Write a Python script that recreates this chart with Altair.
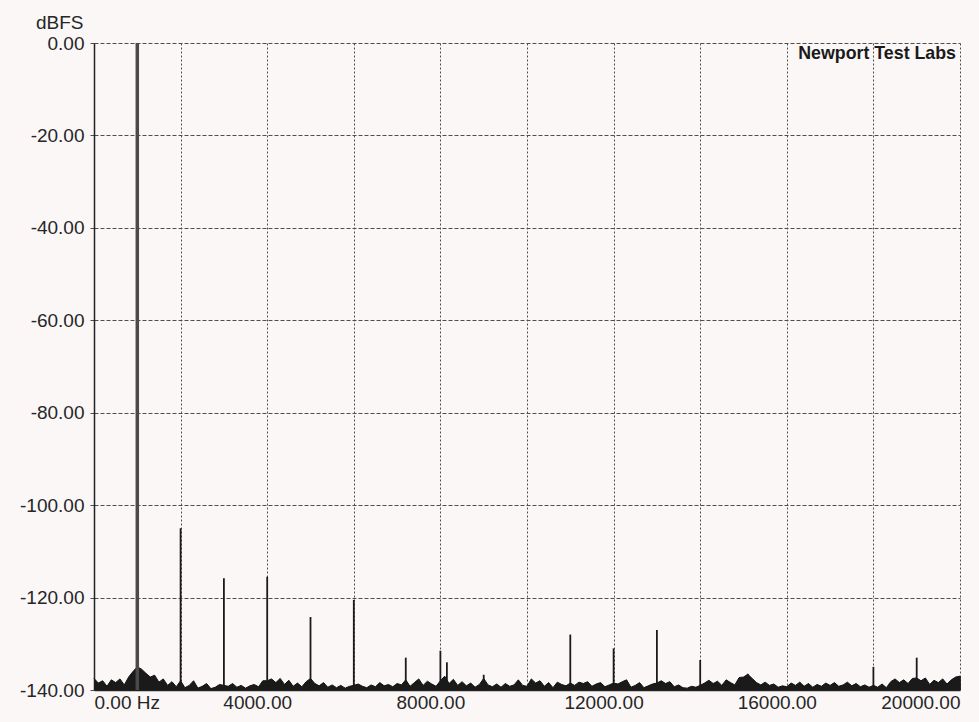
import altair as alt
import pandas as pd

# FFT spectrum of a 1 kHz tone, 0-20 kHz, level in dBFS
noise_freqs = list(range(0, 20001, 100))
noise_db = [
    -137.5, -138.5, -138.0, -139.2, -137.8, -138.4, -137.6, -138.9, -137.2, -136.0,
    -135.0, -135.5, -136.4, -137.2, -136.8, -138.3, -137.6, -139.0, -138.2, -139.3,
    -138.0, -139.5, -139.0, -138.0, -139.6, -139.2, -138.6, -139.7, -139.4, -138.8,
    -139.0, -139.2, -138.6, -139.4, -139.0, -139.6, -139.1, -138.8, -139.3, -138.0,
    -138.0, -137.6, -138.4, -137.5, -138.8, -137.9, -139.2, -138.5, -139.3, -138.2,
    -137.5, -138.6, -139.1, -138.4, -139.4, -138.9, -139.5, -139.0, -139.6, -139.2,
    -139.0, -138.7, -139.2, -139.5, -138.9, -139.3, -138.4, -139.1, -138.8, -139.3,
    -138.6, -138.9, -137.8, -139.2, -138.4, -137.6, -139.0, -138.1, -138.7, -139.2,
    -138.0, -137.0, -138.6, -137.7, -139.0, -138.2, -139.1, -138.5, -139.4, -138.8,
    -137.5, -138.9, -139.3, -138.7, -139.4, -138.6, -139.2, -138.9, -137.8, -139.0,
    -139.2, -137.6, -138.5, -138.0, -139.2, -138.4, -139.5, -138.3, -138.8, -139.1,
    -138.5, -139.0, -138.3, -138.6, -138.2, -139.2, -138.7, -138.4, -139.3, -138.9,
    -138.5, -138.7, -138.2, -137.8, -139.4, -139.0, -138.4, -139.5, -139.1, -138.7,
    -138.5, -138.0, -138.6, -138.2, -139.3, -138.9, -139.5, -139.6, -139.2, -139.4,
    -139.0, -138.5, -137.9, -138.6, -138.1, -139.0, -137.8, -138.4, -138.9, -137.3,
    -137.2, -136.6, -137.5, -138.4, -138.9, -138.3, -139.0, -138.7, -139.4, -139.1,
    -139.3, -138.5, -139.0, -138.3, -139.2, -138.6, -139.4, -138.8, -139.2, -138.5,
    -139.0, -138.4, -139.2, -138.9, -138.3, -139.1, -138.6, -139.3, -138.9, -139.4,
    -139.0, -139.4, -138.7, -139.5, -138.2, -137.6, -138.4, -137.8, -138.6, -137.5,
    -137.4, -138.0, -137.4, -138.8, -137.9, -138.4, -137.6, -138.7, -137.8, -137.2,
    -137.0,
]

# fundamental tone
fundamental_freq = [1000]
fundamental_db = [0.0]

# harmonics and spurious components
spike_freqs = [2000, 3000, 4000, 5000, 6000, 7200, 8000, 8150, 9000,
               11000, 12000, 13000, 14000, 15100, 18000, 19000, 20000]
spike_db = [-105.0, -115.8, -115.5, -124.2, -120.5, -133.0, -131.5, -134.0, -136.7,
            -128.0, -131.0, -127.0, -133.5, -136.5, -135.0, -133.0, -137.0]

y_ticks = list(range(-140, 1, 20))
x_grid = list(range(0, 20001, 2000))
x_label_step = 4000
x_first_label = "0.00 Hz"
lab_name = ["Newport Test Labs"]

FONT = "Liberation Sans"
INK = "#262626"
GRID = "#4e4e4e"

noise_df = pd.DataFrame({"freq": noise_freqs, "db": noise_db})
fund_df = pd.DataFrame({"freq": fundamental_freq, "db": fundamental_db})
spike_df = pd.DataFrame({"freq": spike_freqs, "db": spike_db})
lab_df = pd.DataFrame({"label": lab_name})

x_scale = alt.Scale(domain=[0, 20000], nice=False, zero=False)
y_scale = alt.Scale(domain=[-140, 0], nice=False, zero=False)

x_axis = alt.Axis(
    values=x_grid,
    grid=True, gridDash=[2, 2], gridColor=GRID, gridWidth=1,
    ticks=False,
    domainColor="#222", domainWidth=1.5,
    labelExpr=(f"datum.value % {x_label_step} != 0 ? '' : "
               f"(datum.value == 0 ? '{x_first_label}' : format(datum.value, '.2f'))"),
    labelFlush=True, labelOverlap=False,
    labelOffset={"condition": {"test": "datum.value > 0 && datum.value < 20000", "value": -10},
                 "value": 0},
    labelFont=FONT, labelFontSize=19, labelColor=INK, labelPadding=3,
    title=None,
)

# plain hyphen for negative levels
y_axis = alt.Axis(
    values=y_ticks,
    grid=True, gridDash=[4, 2], gridColor=GRID, gridWidth=1,
    tickSize=4, tickColor=GRID,
    domainColor="#222", domainWidth=1.5,
    labelExpr="(datum.value < 0 ? '-' : '') + format(abs(datum.value), '.2f')",
    labelFlush=False, labelOverlap=False,
    labelFont=FONT, labelFontSize=19, labelColor=INK, labelPadding=6,
    title="dBFS", titleAngle=0, titleAlign="right", titleBaseline="middle",
    titleX=-11, titleY=-21, titleFont=FONT, titleFontSize=19,
    titleFontWeight="normal", titleColor=INK,
)

# every layer carries the same axis definitions so the merged axes stay intact
X = alt.X("freq:Q", scale=x_scale, axis=x_axis)
Y = alt.Y("db:Q", scale=y_scale, axis=y_axis)

noise = alt.Chart(noise_df).mark_area(
    color="#1a1a1a", opacity=1, line={"color": "#111111", "strokeWidth": 1}
).encode(x=X, y=Y, y2=alt.datum(-140))

spikes = alt.Chart(spike_df).mark_rule(color="#1a1a1a", strokeWidth=1.8).encode(
    x=X, y=Y, y2=alt.datum(-140)
)

fundamental = alt.Chart(fund_df).mark_rule(color="#4a4a4a", strokeWidth=3.5).encode(
    x=X, y=Y, y2=alt.datum(-140)
)

lab = alt.Chart(lab_df).mark_text(
    align="right", baseline="middle", font=FONT, fontSize=17.8,
    fontWeight="bold", color="#1a1a1a",
).encode(x=alt.value(862), y=alt.value(11), text="label:N")

chart = alt.layer(noise, spikes, fundamental, lab).properties(
    width=866,
    height=647,
    autosize=alt.AutoSizeParams(type="none"),
    padding={"left": 94, "top": 43, "right": 19, "bottom": 32},
    background="#fbf7f7",
).configure_view(stroke=None)

chart.save("out.html", embed_options={"renderer": "svg", "actions": False})
